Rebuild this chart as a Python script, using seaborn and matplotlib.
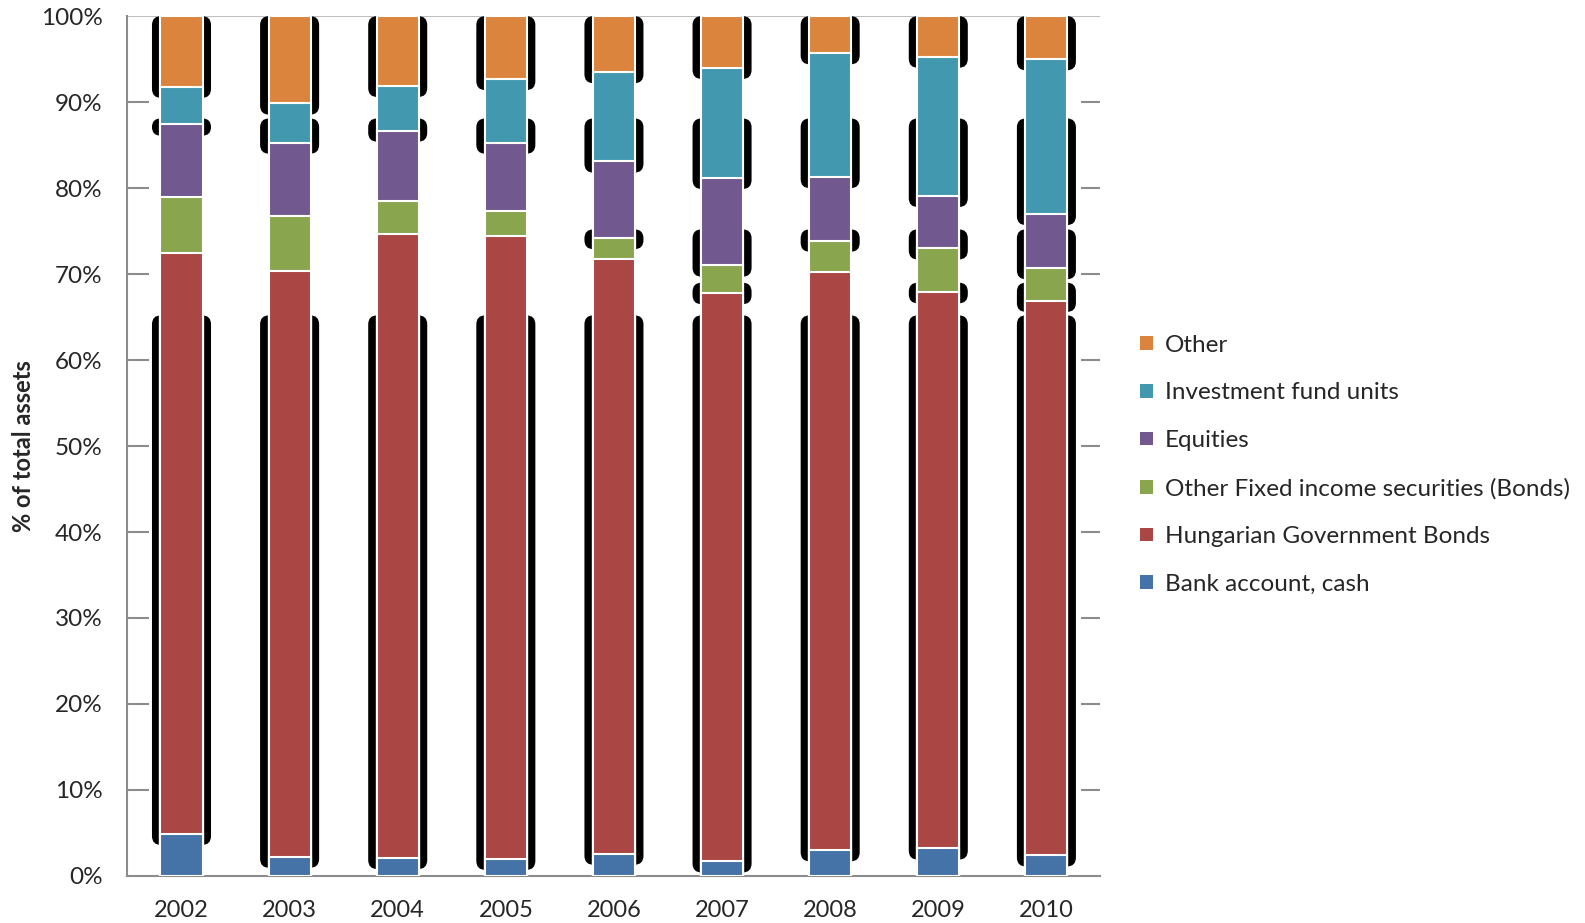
import numpy as np
import pandas as pd
import matplotlib.pyplot as plt
import seaborn as sns
from matplotlib.patches import Patch, FancyBboxPatch

# portfolio shares (% of total assets)
years = ['2002', '2003', '2004', '2005', '2006', '2007', '2008', '2009', '2010']
bank_cash = [4.9, 2.25, 2.1, 2.0, 2.6, 1.7, 3.0, 3.2, 2.4]
hun_gov_bonds = [67.6, 68.15, 72.6, 72.4, 69.1, 66.1, 67.3, 64.7, 64.5]
other_fixed = [6.5, 6.3, 3.8, 2.9, 2.5, 3.2, 3.6, 5.1, 3.8]
equities = [8.4, 8.6, 8.2, 8.0, 8.9, 10.2, 7.4, 6.1, 6.3]
fund_units = [4.4, 4.55, 5.2, 7.4, 10.4, 12.8, 14.4, 16.2, 18.0]
other = [8.2, 10.15, 8.1, 7.3, 6.5, 6.0, 4.3, 4.7, 5.0]

series = ['Bank account, cash', 'Hungarian Government Bonds',
          'Other Fixed income securities (Bonds)', 'Equities',
          'Investment fund units', 'Other']
colors = ['#4572A7', '#AA4643', '#89A54E', '#71588F', '#4198AF', '#DB843D']

df = pd.DataFrame(dict(zip(series, [bank_cash, hun_gov_bonds, other_fixed,
                                    equities, fund_units, other])), index=years)
cum = df.cumsum(axis=1)

sns.set_style('white')
plt.rcParams['font.family'] = ['Lato', 'DejaVu Sans']

fig = plt.figure(figsize=(15.85, 9.23), dpi=100)
ax = fig.add_axes([0.0804, 0.051, 0.6139, 0.9315])

# stacked bars: draw cumulative totals from the top series down
for name, c in zip(series[::-1], colors[::-1]):
    sns.barplot(x=years, y=cum[name].values, color=c, saturation=1, width=0.39,
                edgecolor='white', linewidth=1.5, errorbar=None,
                ax=ax, zorder=3)

# black "shadow" artefacts of the original rendering
shadow_drop = 1.3
bands = {0: [100, 88.1, 65.2], 1: [100, 88.1, 65.2], 2: [100, 88.1, 65.2],
         3: [100, 88.1, 65.2], 4: [100, 88.1, 75.2, 65.2],
         5: [100, 88.1, 75.2, 69.0, 65.2], 6: [100, 88.1, 75.2, 65.2],
         7: [100, 88.1, 75.2, 69.0, 65.2], 8: [100, 88.1, 75.2, 69.0, 65.2]}
aspect = 12.6
for i, yr in enumerate(years):
    tops = cum.loc[yr].values
    bottoms = np.concatenate([[0], tops[:-1]])
    for t in bands[i]:
        for lo, hi in zip(bottoms - shadow_drop, tops - shadow_drop):
            if lo < t <= hi + shadow_drop + 0.01:
                h = t - lo
                r = min(0.083, h / aspect / 2)
                ax.add_patch(FancyBboxPatch((i - 0.273, lo), 0.546, h,
                                            boxstyle=f'round,pad=0,rounding_size={r}',
                                            mutation_aspect=aspect,
                                            fc='black', ec='none', zorder=2))
                break

ax.set_xlim(-0.5, len(years) - 0.5)
ax.set_ylim(0, 100)

# gridlines only show at the plot margins
grid_c = '#8C8C8C'
yt = np.arange(0, 101, 10)
ax.hlines(yt[1:-1], -0.5, -0.3, color=grid_c, lw=1.5, zorder=1)
ax.hlines(yt[1:-1], 8.32, 8.5, color=grid_c, lw=1.5, zorder=1)
ax.axhline(100, color='#BFBFBF', lw=1.5, zorder=1)

ax.set_yticks(yt)
ax.set_yticklabels([f'{v}%' for v in yt], fontsize=17.5)
ax.set_xticks(range(len(years)))
ax.set_xticklabels(years, fontsize=17)
ax.set_xticks(np.arange(-0.5, len(years)), minor=True)
ax.tick_params(axis='x', which='major', length=0, pad=17)
ax.tick_params(axis='x', which='minor', length=8, width=1.5, color=grid_c)
ax.tick_params(axis='y', length=7, width=1.5, color=grid_c, pad=11)

for s in ['top', 'right']:
    ax.spines[s].set_visible(False)
for s in ['left', 'bottom']:
    ax.spines[s].set_color(grid_c)
    ax.spines[s].set_linewidth(1.5)

ax.set_xlabel('')
ax.set_ylabel('% of total assets', fontsize=17, fontweight='bold', labelpad=4)

handles = [Patch(facecolor=c, edgecolor='none') for c in colors[::-1]]
fig.legend(handles, series[::-1], loc='center left', bbox_to_anchor=(0.7195, 0.4965),
           frameon=False, fontsize=17.5, handlelength=0.5, handleheight=0.5,
           handletextpad=0.5, labelspacing=1.1, borderpad=0, borderaxespad=0)

fig.savefig('out.png', dpi=100)
